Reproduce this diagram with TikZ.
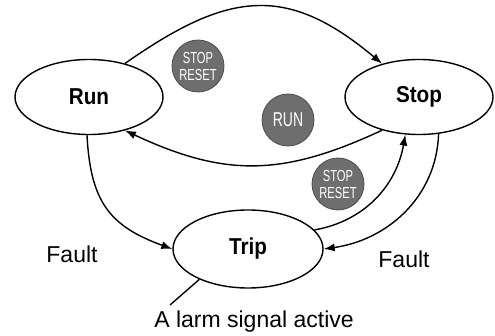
\documentclass[tikz,border=0pt]{standalone}
\usepackage{fontspec}
\setmainfont{Liberation Sans}
\usetikzlibrary{shapes.geometric,arrows.meta}

\begin{document}
\begin{tikzpicture}[x=1pt,y=-1pt,
    state/.style={ellipse,draw,line width=1.4pt,minimum width=148pt,minimum height=75pt,
        inner sep=0pt,font=\fontsize{23}{26}\selectfont\bfseries\addfontfeature{FakeStretch=0.9}},
    button/.style={circle,draw=black!70,line width=0.8pt,fill=black!57,text=white,
        minimum size=52pt,inner sep=0pt,align=center,
        font=\fontsize{16}{17}\selectfont\addfontfeature{FakeStretch=0.7}},
    trans/.style={line width=1.4pt,-{Latex[length=11pt,width=8pt]}},
    lbl/.style={anchor=base,font=\fontsize{23}{26}\selectfont}]
    \useasboundingbox (0,0) rectangle (495,336);

    % states
    \node[state] (Run) at (89,97) {Run};
    \node[state] (Stop) at (419,97) {Stop};
    \node[state,minimum width=150pt,minimum height=78pt] (Trip) at (248,249) {Trip};

    % push buttons
    \node[button] (stopA) at (198,66) {STOP\\RESET};
    \node[button,font=\fontsize{20}{22}\selectfont\addfontfeature{FakeStretch=0.7}] (runB) at (288,120) {RUN};
    \node[button] (stopB) at (338,184) {STOP\\RESET};

    % transitions
    \draw[trans] (Run.43) to[out=35,in=140,looseness=1.25] (Stop.138);
    \draw[trans] (Stop.222) to[out=205,in=-25,looseness=1.1] (Run.-43);
    \draw[trans] (Run.-93) to[out=-87,in=160,looseness=1.2] (Trip.west);
    \draw[trans] (Trip.16) to[out=10,in=-100] (Stop.-110);
    \draw[trans] (Stop.-62) to[out=-92,in=8] (Trip.east);

    % labels
    \node[lbl] (faultL) at (72,263) {Fault};
    \node[lbl] (faultR) at (404,268) {Fault};
    \node[lbl] (alarm) at (254,328) {A larm signal active};
    \coordinate (alarmEnd) at (170,305);
    \draw[line width=1.4pt] (Trip.212) -- (alarmEnd);
\end{tikzpicture}
\end{document}
